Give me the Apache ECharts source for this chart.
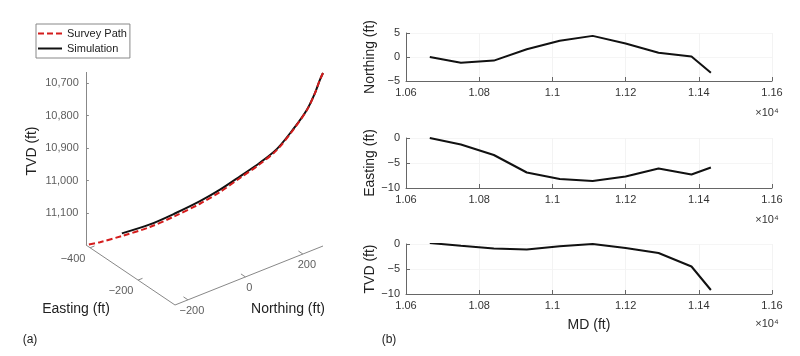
<!DOCTYPE html>
<html><head><meta charset="utf-8">
<script src="https://cdn.jsdelivr.net/npm/echarts@6/dist/echarts.min.js"></script>
<style>html,body{margin:0;padding:0;background:#fff}#c{width:800px;height:356px}</style>
</head><body><div id="c"></div>
<script>
// ---------- Right panels (b): deviation vs MD ----------
const md        = [10665, 10750, 10840, 10930, 11020, 11110, 11200, 11290, 11380, 11433];
const northing  = [0, -1.2, -0.75, 1.6, 3.4, 4.4, 2.8, 0.9, 0.1, -3.3];
const easting   = [0, -1.3, -3.4, -6.9, -8.2, -8.6, -7.7, -6.1, -7.3, -5.9];
const tvdDev    = [0.2, -0.35, -0.9, -1.1, -0.45, 0, -0.8, -1.8, -4.5, -9.2];

// ---------- Left panel (a): 3D well path ----------
const surveyE   = [-46, -51, -59, -71, -93, -118, -145, -176, -207, -239, -278, -317, -361, -395, -417];
const surveyN   = [270, 263, 253, 235, 205, 170, 133, 90, 46, 3, -52, -106, -167, -215, -245];
const surveyTVD = [10666, 10688, 10728, 10780, 10842, 10903, 10947, 10990, 11033, 11070, 11108, 11142, 11170, 11189, 11198];
const simE      = [-46, -51, -59, -71, -93, -118, -145, -176, -207, -239, -278, -317, -361];
const simN      = [270, 263, 253, 235, 205, 170, 133, 90, 46, 3, -52, -106, -167];
const simTVD    = [10666, 10688, 10728, 10779, 10840, 10900, 10943, 10985, 11026, 11062, 11100, 11134, 11162];

// axis limits and ticks of the 3D box
const eLim   = [-417, -46];
const nLim   = [-245, 270];
const tvdLim = [10666, 11198];
const eTicks   = [-400, -200];
const nTicks   = [-200, 0, 200];
const tvdTicks = [10700, 10800, 10900, 11000, 11100];

// ---------- projection (layout) ----------
const VIEW = { origin: [86, 245], e: [89, 60], n: [148, -59], z: [0, -173] };
function projN(e, n, z) {
  return [VIEW.origin[0] + e * VIEW.e[0] + n * VIEW.n[0] + z * VIEW.z[0],
          VIEW.origin[1] + e * VIEW.e[1] + n * VIEW.n[1] + z * VIEW.z[1]];
}
const ne = E => (E - eLim[0]) / (eLim[1] - eLim[0]);
const nn = N => (N - nLim[0]) / (nLim[1] - nLim[0]);
const nz = Z => (tvdLim[1] - Z) / (tvdLim[1] - tvdLim[0]);
const proj = (E, N, Z) => projN(ne(E), nn(N), nz(Z));

const surveyPts = surveyE.map((E, i) => proj(E, surveyN[i], surveyTVD[i]));
const simPts = simE.map((E, i) => proj(E, simN[i], simTVD[i]));

const boxLines = [
  { coords: [projN(0, 0, 0), projN(0, 0, 1)] },
  { coords: [projN(0, 0, 0), projN(1, 0, 0)] },
  { coords: [projN(1, 0, 0), projN(1, 1, 0)] }
];
const tickLines = [];
const tickLabels = [];
eTicks.forEach(v => {
  tickLines.push({ coords: [projN(ne(v), 0, 0), projN(ne(v), 0.03, 0)] });
  tickLabels.push({ value: projN(ne(v), 0, 0), name: String(v).replace('-', '\u2212'), label: { offset: [-17, 11] } });
});
nTicks.forEach(v => {
  tickLines.push({ coords: [projN(1, nn(v), 0), projN(0.95, nn(v), 0)] });
  tickLabels.push({ value: projN(1, nn(v), 0), name: String(v).replace('-', '\u2212'), label: { offset: [4, 11] } });
});
tvdTicks.forEach(v => {
  tickLines.push({ coords: [projN(0, 0, nz(v)), projN(0.012, 0.012, nz(v))] });
  tickLabels.push({ value: projN(0, 0, nz(v)), name: v.toLocaleString('en-US'), label: { offset: [-24, 0] } });
});

const FONT = "'Liberation Sans', Arial, Helvetica, sans-serif";
const grids = [
  { left: 406, width: 366, top: 33, height: 48 },
  { left: 406, width: 366, top: 138, height: 50 },
  { left: 406, width: 366, top: 244, height: 50 },
  { left: 0, top: 0, width: 360, height: 356 }
];
function mdAxis(i, extra) {
  return Object.assign({
    type: 'value', gridIndex: i, min: 10600, max: 11600, interval: 200,
    axisLine: { onZero: false, lineStyle: { color: '#666', width: 1 } },
    axisTick: { inside: true, length: 4, lineStyle: { color: '#666' } },
    axisLabel: { fontSize: 11, color: '#333', fontFamily: FONT, margin: 6,
      formatter: v => String(+(v / 1e4).toFixed(2)) },
    splitLine: { show: true, lineStyle: { color: '#f3f3f3' } }
  }, extra || {});
}
function devAxis(i, min, max, name) {
  return {
    type: 'value', gridIndex: i, min: min, max: max, interval: 5,
    name: name, nameLocation: 'middle', nameGap: 29,
    nameTextStyle: { fontSize: 14, color: '#222', fontFamily: FONT },
    axisLine: { show: true, onZero: false, lineStyle: { color: '#666', width: 1 } },
    axisTick: { show: true, inside: true, length: 4, lineStyle: { color: '#666' } },
    axisLabel: { fontSize: 11, color: '#333', fontFamily: FONT, margin: 6,
      formatter: v => String(v).replace('-', '\u2212') },
    splitLine: { show: true, lineStyle: { color: '#f5f5f5' } }
  };
}
const devLine = (i, data) => ({
  type: 'line', xAxisIndex: i, yAxisIndex: i, symbol: 'none', silent: true,
  data: md.map((m, k) => [m, data[k]]),
  lineStyle: { color: '#111', width: 2 }
});

const chart = echarts.init(document.getElementById('c'), null, { renderer: 'canvas' });
chart.setOption({
  animation: false,
  backgroundColor: '#fff',
  textStyle: { fontFamily: FONT },
  grid: grids,
  xAxis: [
    mdAxis(0), mdAxis(1),
    mdAxis(2, { name: 'MD (ft)', nameLocation: 'middle', nameGap: 24,
      nameTextStyle: { fontSize: 14, color: '#222', fontFamily: FONT } }),
    { type: 'value', gridIndex: 3, min: 0, max: 360, show: false }
  ],
  yAxis: [
    devAxis(0, -5, 5, 'Northing (ft)'),
    devAxis(1, -10, 0, 'Easting (ft)'),
    devAxis(2, -10, 0, 'TVD (ft)'),
    { type: 'value', gridIndex: 3, min: 0, max: 356, inverse: true, show: false }
  ],
  legend: {
    data: ['Survey Path', 'Simulation'], orient: 'vertical', left: 36, top: 24,
    itemWidth: 24, itemHeight: 10, itemGap: 2, padding: [3, 3, 3, 1],
    borderColor: '#888', borderWidth: 1, backgroundColor: '#fff',
    itemStyle: { opacity: 0 },
    textStyle: { fontSize: 11, color: '#222', fontFamily: FONT, lineHeight: 13 }
  },
  series: [
    devLine(0, northing), devLine(1, easting), devLine(2, tvdDev),
    {
      type: 'lines', coordinateSystem: 'cartesian2d', xAxisIndex: 3, yAxisIndex: 3,
      silent: true, data: boxLines, lineStyle: { color: '#888', width: 1, opacity: 1 }
    },
    {
      type: 'lines', coordinateSystem: 'cartesian2d', xAxisIndex: 3, yAxisIndex: 3,
      silent: true, data: tickLines, lineStyle: { color: '#888', width: 1, opacity: 1 }
    },
    {
      type: 'scatter', xAxisIndex: 3, yAxisIndex: 3, symbolSize: 0, silent: true,
      data: tickLabels,
      label: { show: true, formatter: '{b}', position: 'inside', fontSize: 11, color: '#333', fontFamily: FONT }
    },
    {
      name: 'Simulation', type: 'line', xAxisIndex: 3, yAxisIndex: 3, symbol: 'none',
      smooth: 0.3, z: 3, data: simPts, lineStyle: { color: '#111', width: 2 }, itemStyle: { color: '#111' }
    },
    {
      name: 'Survey Path', type: 'line', xAxisIndex: 3, yAxisIndex: 3, symbol: 'none',
      smooth: 0.3, z: 4, data: surveyPts, lineStyle: { color: '#d41c1c', width: 2, type: [6, 3] },
      itemStyle: { color: '#d41c1c' }
    }
  ],
  graphic: [
    { type: 'text', x: 32, y: 151, rotation: Math.PI / 2,
      style: { text: 'TVD (ft)', fontSize: 14, fill: '#222', fontFamily: FONT, align: 'center', verticalAlign: 'middle' } },
    { type: 'text', x: 76, y: 309,
      style: { text: 'Easting (ft)', fontSize: 14, fill: '#222', fontFamily: FONT, align: 'center', verticalAlign: 'middle' } },
    { type: 'text', x: 288, y: 309,
      style: { text: 'Northing (ft)', fontSize: 14, fill: '#222', fontFamily: FONT, align: 'center', verticalAlign: 'middle' } },
    { type: 'text', x: 30, y: 340,
      style: { text: '(a)', fontSize: 12, fill: '#222', fontFamily: FONT, align: 'center', verticalAlign: 'middle' } },
    { type: 'text', x: 389, y: 340,
      style: { text: '(b)', fontSize: 12, fill: '#222', fontFamily: FONT, align: 'center', verticalAlign: 'middle' } },
    { type: 'text', x: 767, y: 113,
      style: { text: '\u00d710\u2074', fontSize: 11, fill: '#333', fontFamily: FONT, align: 'center', verticalAlign: 'middle' } },
    { type: 'text', x: 767, y: 220,
      style: { text: '\u00d710\u2074', fontSize: 11, fill: '#333', fontFamily: FONT, align: 'center', verticalAlign: 'middle' } },
    { type: 'text', x: 767, y: 324,
      style: { text: '\u00d710\u2074', fontSize: 11, fill: '#333', fontFamily: FONT, align: 'center', verticalAlign: 'middle' } }
  ]
});
</script></body></html>
